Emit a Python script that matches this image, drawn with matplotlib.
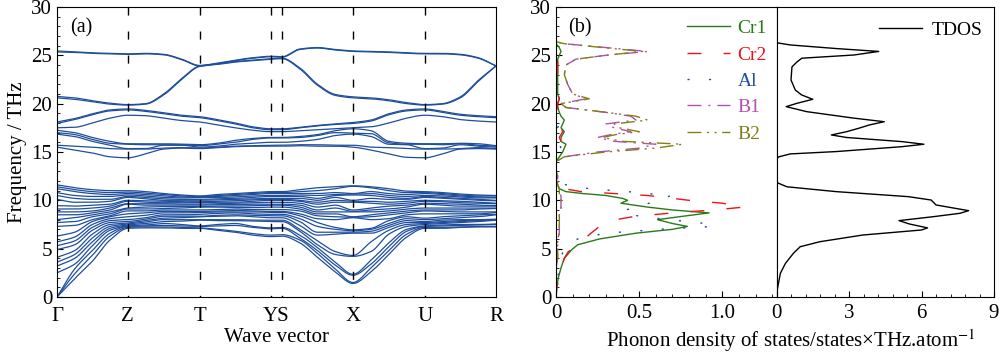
import numpy as np
import matplotlib
matplotlib.use("Agg")
import matplotlib.pyplot as plt
from matplotlib.ticker import MultipleLocator

plt.rcParams['font.family'] = ['Liberation Serif', 'DejaVu Serif']
plt.rcParams['mathtext.fontset'] = 'stix'

# ---------------- data ----------------
hs_labels = ['Γ', 'Z', 'T', 'YS', 'X', 'U', 'R']
hs_dist = [0.0, 70.7, 142.7, 213.7, 225.0, 296.0, 367.7, 439.0]   # Γ Z T Y S X U R
line_pos = [70.7, 142.7, 213.7, 225.0, 296.0, 367.7]
label_pos = [0.0, 70.7, 142.7, 219.35, 296.0, 367.7, 439.0]
# sample fractions along each segment (Y-S has only its end points)
seg_fracs = [0.0, 0.25, 0.5, 0.75]

# 24 lower bands, one row per k sample (Γ .25 .5 .75 Z .25 .5 .75 T .25 .5 .75 Y S .25 .5 .75 X .25 .5 .75 U .25 .5 .75 R)
band_low = [
    [0, 0, 0, 2.5, 3.2, 3.6, 4.1, 4.9, 5.3, 5.7, 6.3, 7.3, 7.7, 8.0, 8.5, 8.8, 9.1, 9.45, 10.1, 10.5, 10.8, 11.2, 11.4, 11.6],
    [1.9, 2.4, 2.9, 3.4, 4.0, 4.4, 4.8, 5.4, 5.8, 6.2, 6.7, 7.4, 7.8, 8.2, 8.5, 8.8, 9.1, 9.4, 9.8, 10.2, 10.5, 10.9, 11.1, 11.3],
    [3.7, 4.3, 4.8, 5.3, 5.7, 6.1, 6.5, 6.9, 7.2, 7.5, 7.8, 8.0, 8.3, 8.5, 8.7, 8.9, 9.2, 9.5, 9.8, 10.1, 10.4, 10.7, 10.9, 11.1],
    [5.9, 6.3, 6.6, 6.9, 7.1, 7.3, 7.5, 7.7, 7.9, 8.1, 8.3, 8.4, 8.6, 8.8, 9.0, 9.2, 9.4, 9.6, 9.9, 10.1, 10.4, 10.6, 10.8, 11.0],
    [7.1, 7.2, 7.3, 7.35, 7.45, 7.55, 7.65, 7.8, 8.0, 8.3, 8.6, 8.9, 9.1, 9.2, 9.6, 9.65, 9.9, 10.0, 10.3, 10.4, 10.55, 10.7, 10.85, 11.0],
    [7.15, 7.25, 7.35, 7.45, 7.6, 7.75, 7.9, 8.05, 8.2, 8.45, 8.7, 8.9, 9.1, 9.3, 9.5, 9.65, 9.8, 9.95, 10.15, 10.3, 10.45, 10.6, 10.75, 10.9],
    [7.15, 7.25, 7.4, 7.6, 7.8, 8.0, 8.15, 8.35, 8.5, 8.7, 8.85, 9.0, 9.15, 9.35, 9.5, 9.65, 9.75, 9.9, 10.0, 10.15, 10.3, 10.45, 10.6, 10.7],
    [7.1, 7.2, 7.35, 7.5, 7.85, 8.0, 8.2, 8.35, 8.5, 8.7, 8.85, 9.0, 9.2, 9.35, 9.5, 9.6, 9.75, 9.85, 10.0, 10.1, 10.25, 10.35, 10.45, 10.55],
    [7.1, 7.15, 7.3, 7.35, 7.95, 8.0, 8.3, 8.35, 8.55, 8.75, 8.85, 9.0, 9.3, 9.35, 9.5, 9.6, 9.75, 9.85, 10.0, 10.1, 10.3, 10.35, 10.4, 10.45],
    [6.9, 7.0, 7.35, 7.5, 7.9, 8.0, 8.35, 8.45, 8.65, 8.8, 8.9, 9.05, 9.3, 9.4, 9.55, 9.65, 9.8, 9.9, 10.05, 10.15, 10.3, 10.4, 10.5, 10.6],
    [6.7, 6.8, 7.4, 7.6, 7.9, 8.0, 8.4, 8.5, 8.7, 8.8, 8.95, 9.1, 9.25, 9.4, 9.55, 9.7, 9.8, 9.95, 10.1, 10.2, 10.35, 10.5, 10.6, 10.7],
    [6.4, 6.55, 7.2, 7.3, 7.85, 7.95, 8.3, 8.45, 8.6, 8.8, 8.9, 9.05, 9.25, 9.45, 9.6, 9.75, 9.9, 10.05, 10.15, 10.3, 10.45, 10.6, 10.7, 10.8],
    [6.25, 6.4, 7.05, 7.15, 7.8, 7.95, 8.2, 8.4, 8.55, 8.75, 8.85, 9.05, 9.3, 9.5, 9.6, 9.8, 10.0, 10.1, 10.2, 10.4, 10.5, 10.7, 10.8, 10.9],
    [6.3, 6.45, 7.1, 7.2, 7.8, 7.95, 8.2, 8.4, 8.55, 8.75, 8.85, 9.05, 9.3, 9.5, 9.6, 9.8, 10.0, 10.1, 10.2, 10.4, 10.5, 10.7, 10.8, 10.9],
    [5.6, 5.9, 6.1, 6.4, 6.8, 7.0, 7.4, 7.8, 8.1, 8.4, 8.6, 8.9, 9.1, 9.3, 9.5, 9.7, 9.9, 10.0, 10.2, 10.4, 10.55, 10.7, 10.9, 11.1],
    [4.1, 4.5, 4.8, 5.1, 5.4, 5.8, 6.4, 6.7, 7.3, 7.7, 8.1, 8.4, 8.6, 8.8, 9.0, 9.3, 9.6, 9.8, 10.0, 10.2, 10.5, 10.7, 11.0, 11.3],
    [2.6, 2.9, 3.3, 3.6, 4.4, 4.7, 6.5, 6.7, 7.0, 7.2, 8.0, 8.3, 8.6, 8.8, 9.2, 9.5, 9.8, 10.0, 10.3, 10.5, 10.6, 10.8, 11.2, 11.4],
    [1.4, 1.5, 2.25, 2.35, 4.2, 4.3, 6.6, 6.7, 6.85, 6.95, 8.2, 8.25, 8.3, 8.8, 8.85, 9.0, 9.8, 9.9, 10.0, 10.55, 10.65, 10.7, 11.45, 11.5],
    [2.6, 3.0, 3.4, 3.8, 4.7, 5.7, 6.6, 6.8, 7.0, 7.1, 8.0, 8.3, 8.5, 8.8, 9.0, 9.2, 9.7, 9.9, 10.2, 10.5, 10.7, 10.9, 11.3, 11.4],
    [4.4, 4.8, 5.2, 5.6, 6.5, 6.9, 7.2, 7.4, 7.6, 7.9, 8.1, 8.5, 8.7, 8.9, 9.1, 9.4, 9.6, 9.8, 10.1, 10.3, 10.5, 10.7, 11.0, 11.2],
    [6.2, 6.5, 6.8, 7.0, 7.3, 7.5, 7.7, 7.9, 8.1, 8.3, 8.5, 8.7, 8.9, 9.1, 9.3, 9.5, 9.7, 9.9, 10.1, 10.2, 10.4, 10.6, 10.8, 10.95],
    [7.1, 7.2, 7.3, 7.35, 7.5, 7.6, 7.7, 7.8, 8.0, 8.15, 8.6, 8.9, 9.0, 9.2, 9.6, 9.7, 9.9, 10.0, 10.3, 10.4, 10.5, 10.7, 10.8, 10.9],
    [7.1, 7.2, 7.35, 7.45, 7.6, 7.7, 7.8, 7.95, 8.1, 8.3, 8.6, 8.85, 9.0, 9.2, 9.5, 9.65, 9.85, 9.95, 10.2, 10.3, 10.45, 10.6, 10.7, 10.8],
    [7.2, 7.25, 7.4, 7.5, 7.7, 7.8, 7.9, 8.0, 8.2, 8.4, 8.6, 8.8, 9.0, 9.2, 9.4, 9.6, 9.75, 9.9, 10.1, 10.2, 10.35, 10.45, 10.55, 10.65],
    [7.25, 7.3, 7.45, 7.5, 7.8, 7.9, 7.95, 8.0, 8.3, 8.5, 8.6, 8.8, 9.1, 9.2, 9.4, 9.5, 9.7, 9.8, 10.0, 10.1, 10.25, 10.35, 10.45, 10.55],
    [7.25, 7.3, 7.5, 7.55, 7.95, 8.0, 8.0, 8.05, 8.5, 8.55, 8.75, 8.8, 9.15, 9.2, 9.4, 9.45, 9.65, 9.7, 9.95, 10.0, 10.25, 10.3, 10.45, 10.5],
]

# 12 upper bands, same k samples
band_high = [
    [15.5, 15.7, 16.85, 17.0, 17.25, 17.5, 17.95, 18.1, 20.6, 20.75, 25.35, 25.45],
    [15.2, 15.6, 16.6, 16.8, 17.0, 17.55, 18.35, 18.45, 20.45, 20.6, 25.3, 25.35],
    [14.9, 15.5, 16.1, 16.3, 16.5, 18.0, 18.85, 18.95, 20.2, 20.3, 25.2, 25.25],
    [14.5, 15.35, 15.7, 15.9, 16.1, 18.5, 19.25, 19.35, 19.95, 20.05, 25.15, 25.2],
    [14.4, 15.3, 15.35, 15.8, 15.85, 18.8, 19.35, 19.45, 19.85, 19.9, 25.1, 25.15],
    [14.8, 15.3, 15.35, 15.75, 15.85, 18.75, 19.2, 19.3, 19.95, 20.0, 25.15, 25.2],
    [15.3, 15.4, 15.7, 15.75, 15.85, 18.5, 18.95, 19.05, 20.9, 21.0, 25.05, 25.1],
    [15.4, 15.45, 15.7, 15.75, 15.8, 18.25, 18.7, 18.8, 22.5, 22.6, 24.55, 24.6],
    [15.35, 15.4, 15.5, 15.65, 15.75, 18.1, 18.55, 18.65, 23.85, 23.9, 23.9, 23.95],
    [15.45, 15.5, 15.6, 15.8, 15.9, 17.8, 18.25, 18.35, 24.05, 24.1, 24.15, 24.2],
    [15.55, 15.6, 15.8, 16.0, 16.2, 17.5, 17.9, 18.0, 24.3, 24.35, 24.45, 24.5],
    [15.6, 15.65, 15.9, 16.3, 16.4, 17.25, 17.5, 17.6, 24.45, 24.5, 24.7, 24.75],
    [15.6, 15.7, 16.0, 16.45, 16.5, 17.1, 17.3, 17.4, 24.6, 24.65, 24.85, 24.9],
    [15.6, 15.7, 16.0, 16.45, 16.5, 17.1, 17.3, 17.4, 24.65, 24.7, 24.8, 24.85],
    [15.65, 15.75, 16.1, 16.5, 16.6, 17.2, 17.5, 17.55, 23.6, 23.7, 25.6, 25.65],
    [15.6, 15.75, 16.3, 16.7, 16.8, 17.3, 17.7, 17.75, 21.9, 22.0, 25.75, 25.8],
    [15.6, 15.7, 16.7, 17.0, 17.2, 17.4, 17.85, 17.9, 20.85, 20.95, 25.55, 25.6],
    [15.5, 15.7, 16.85, 16.95, 17.4, 17.5, 17.95, 18.05, 20.6, 20.7, 25.4, 25.45],
    [15.2, 15.5, 16.6, 16.9, 17.2, 17.6, 18.2, 18.3, 20.5, 20.6, 25.35, 25.4],
    [14.8, 15.45, 15.8, 15.95, 16.1, 18.0, 18.85, 18.95, 20.3, 20.4, 25.3, 25.35],
    [14.45, 15.35, 15.75, 15.8, 15.9, 18.5, 19.25, 19.35, 20.0, 20.1, 25.2, 25.25],
    [14.4, 15.3, 15.35, 15.8, 15.85, 18.8, 19.35, 19.45, 19.85, 19.9, 25.15, 25.2],
    [14.8, 15.3, 15.4, 15.75, 15.85, 18.65, 19.1, 19.2, 19.95, 20.0, 25.15, 25.2],
    [15.3, 15.35, 15.75, 15.85, 15.9, 18.35, 18.8, 18.9, 20.6, 20.7, 25.05, 25.1],
    [15.35, 15.45, 15.6, 15.7, 15.85, 18.2, 18.65, 18.75, 22.3, 22.4, 24.7, 24.75],
    [15.3, 15.35, 15.5, 15.6, 15.65, 18.1, 18.55, 18.65, 23.9, 23.9, 23.9, 23.9],
]

# total DOS (frequency, value)
tdos_freq = [0.0, 1.0, 2.45, 3.48, 4.52, 5.2, 5.72, 6.41, 6.93, 7.15, 7.55, 7.9, 8.31, 8.66, 8.93, 9.52, 10.03, 10.38,
             10.9, 11.4, 11.8, 12.3, 14.3, 14.5, 14.8, 15.04, 15.55, 15.8, 16.07, 16.5, 16.76, 17.1, 17.45, 17.8, 18.13,
             18.5, 19.17, 19.69, 20.03, 20.45, 20.9, 21.4, 22.45, 23.8, 24.3, 24.7, 25.03, 25.4, 25.7, 26.07, 26.3, 30.0]
tdos_val = [0.0, 0.05, 0.16, 0.37, 0.7, 0.98, 1.8, 3.57, 6.0, 6.25, 5.5, 5.07, 6.5, 7.6, 7.95, 6.6, 6.4, 5.45,
            2.46, 0.43, 0.05, 0.0, 0.0, 0.1, 0.57, 2.46, 5.2, 6.1, 5.2, 2.9, 2.27, 2.9, 3.4, 3.85, 4.46,
            3.2, 1.25, 0.4, 0.84, 1.5, 1.04, 0.78, 0.6, 0.64, 0.84, 1.05, 3.2, 4.23, 2.46, 0.57, 0.0, 0.0]

# partial DOS
pdos_freq = [0.0, 1.0, 2.0, 3.0, 4.0, 4.6, 4.9, 5.4, 6.0, 6.6, 7.0, 7.3, 7.6, 8.0, 8.3, 8.7, 9.0, 9.3, 9.7, 10.0,
             10.2, 10.5, 10.7, 10.9, 11.2, 11.6, 12.0, 12.5, 13.0, 14.0, 14.5, 15.0, 15.4, 15.8, 16.1, 16.5, 16.8,
             17.1, 17.5, 17.9, 18.3, 18.7, 19.1, 19.6, 20.0, 20.5, 21.0, 22.0, 23.0, 24.0, 24.6, 25.0, 25.4, 25.8,
             26.2, 26.4, 30.0]
pdos_cr1 = [0.0, 0.005, 0.014, 0.03, 0.05, 0.08, 0.095, 0.13, 0.26, 0.48, 0.70, 0.79, 0.70, 0.61, 0.74, 0.92, 0.70,
            0.55, 0.39, 0.43, 0.40, 0.30, 0.16, 0.06, 0.02, 0.01, 0.0, 0.01, 0.0, 0.0, 0.02, 0.04, 0.05, 0.06, 0.03,
            0.03, 0.04, 0.05, 0.03, 0.04, 0.05, 0.03, 0.02, 0.01, 0.01, 0.02, 0.01, 0.01, 0.01, 0.01, 0.01, 0.02, 0.03,
            0.02, 0.0, 0.0, 0.0]
pdos_cr2 = [0.0, 0.005, 0.02, 0.03, 0.05, 0.07, 0.09, 0.12, 0.17, 0.21, 0.24, 0.26, 0.29, 0.36, 0.46, 0.70, 0.95,
            1.13, 1.0, 0.80, 0.70, 0.55, 0.35, 0.15, 0.05, 0.01, 0.0, 0.0, 0.0, 0.0, 0.02, 0.03, 0.05, 0.04, 0.03,
            0.02, 0.03, 0.04, 0.03, 0.04, 0.05, 0.03, 0.02, 0.01, 0.01, 0.02, 0.01, 0.01, 0.01, 0.01, 0.01, 0.02,
            0.02, 0.02, 0.0, 0.0, 0.0]
pdos_al = [0.0, 0.005, 0.01, 0.02, 0.03, 0.04, 0.05, 0.07, 0.13, 0.30, 0.62, 0.95, 0.90, 0.68, 0.52, 0.40, 0.42,
           0.48, 0.56, 0.60, 0.65, 0.69, 0.55, 0.43, 0.20, 0.06, 0.02, 0.01, 0.0, 0.0, 0.01, 0.02, 0.03, 0.02, 0.02,
           0.01, 0.02, 0.02, 0.01, 0.02, 0.02, 0.01, 0.01, 0.0, 0.0, 0.01, 0.0, 0.0, 0.0, 0.0, 0.0, 0.01, 0.01,
           0.01, 0.0, 0.0, 0.0]
pdos_b1 = [0.0, 0.0, 0.0, 0.0, 0.01, 0.01, 0.01, 0.01, 0.01, 0.02, 0.02, 0.02, 0.02, 0.02, 0.02, 0.02, 0.03, 0.03,
           0.03, 0.03, 0.03, 0.03, 0.02, 0.02, 0.02, 0.01, 0.01, 0.01, 0.0, 0.0, 0.05, 0.25, 0.50, 0.60, 0.35,
           0.25, 0.33, 0.45, 0.35, 0.30, 0.48, 0.45, 0.30, 0.06, 0.03, 0.18, 0.10, 0.07, 0.05, 0.06, 0.12, 0.30,
           0.55, 0.30, 0.05, 0.0, 0.0]
pdos_b2 = [0.0, 0.0, 0.0, 0.0, 0.01, 0.01, 0.01, 0.01, 0.01, 0.02, 0.02, 0.02, 0.02, 0.02, 0.02, 0.02, 0.03, 0.03,
           0.03, 0.03, 0.03, 0.03, 0.02, 0.02, 0.02, 0.01, 0.01, 0.01, 0.0, 0.0, 0.05, 0.30, 0.60, 0.76, 0.40,
           0.28, 0.36, 0.50, 0.38, 0.35, 0.55, 0.48, 0.30, 0.06, 0.03, 0.20, 0.10, 0.07, 0.05, 0.06, 0.12, 0.30,
           0.52, 0.28, 0.05, 0.0, 0.0]

pdos_names = ['Cr1', 'Cr2', 'Al', 'B1', 'B2']
pdos_colors = ['#2a7a1a', '#e8141c', '#1f4e9c', '#b04fb4', '#808018']


def pchip(x, y, xs):
    x = np.asarray(x, float)
    y = np.asarray(y, float)
    h = np.diff(x)
    d = np.diff(y) / h
    m = np.zeros_like(y)
    m[0], m[-1] = d[0], d[-1]
    for i in range(1, len(y) - 1):
        if d[i - 1] * d[i] <= 0:
            m[i] = 0.0
        else:
            w1 = 2 * h[i] + h[i - 1]
            w2 = h[i] + 2 * h[i - 1]
            m[i] = (w1 + w2) / (w1 / d[i - 1] + w2 / d[i])
    idx = np.clip(np.searchsorted(x, xs, side='right') - 1, 0, len(x) - 2)
    t = (xs - x[idx]) / h[idx]
    h00 = 2 * t**3 - 3 * t**2 + 1
    h10 = t**3 - 2 * t**2 + t
    h01 = -2 * t**3 + 3 * t**2
    h11 = t**3 - t**2
    return h00 * y[idx] + h10 * h[idx] * m[idx] + h01 * y[idx + 1] + h11 * h[idx] * m[idx + 1]


# k sample positions
kx = []
for s in range(len(hs_dist) - 1):
    a, b = hs_dist[s], hs_dist[s + 1]
    if s == 3:
        kx.append(a)
    else:
        for f in seg_fracs:
            kx.append(a + f * (b - a))
kx.append(hs_dist[-1])
kx = np.array(kx)

FS = 15

# ---------------- figure ----------------
fig = plt.figure(figsize=(10, 3.55), dpi=100)
ax_a = fig.add_axes([0.057, 0.1634, 0.439, 0.817])
ax_p = fig.add_axes([0.556, 0.1634, 0.2205, 0.817])
ax_t = fig.add_axes([0.7765, 0.1634, 0.2175, 0.817])

band_color = '#1f4e9c'
xs_fine = np.linspace(kx[0], kx[-1], 1500)
for table in (band_low, band_high):
    arr = np.array(table)
    for j in range(arr.shape[1]):
        ax_a.plot(xs_fine, pchip(kx, arr[:, j], xs_fine), color=band_color, lw=0.9)

for xp in line_pos:
    ax_a.plot([xp, xp], [30, 0], color='black', lw=1.0, dashes=(5.8, 11.5))

ax_a.set_xlim(hs_dist[0], hs_dist[-1])
ax_a.set_ylim(0, 30)
ax_a.set_xticks(label_pos)
ax_a.set_xticklabels(hs_labels)
ax_a.tick_params(axis='x', length=0, pad=7, labelsize=FS)
ax_a.yaxis.set_major_locator(MultipleLocator(5))
ax_a.yaxis.set_minor_locator(MultipleLocator(1))
ax_a.tick_params(axis='y', which='both', direction='in', labelsize=FS)
ax_a.tick_params(axis='y', which='major', length=4)
ax_a.tick_params(axis='y', which='minor', length=2)
ax_a.set_ylabel('Frequency / THz', fontsize=FS, labelpad=3)
ax_a.set_xlabel('Wave vector', fontsize=FS, labelpad=2)
ax_a.text(0.03, 0.96, '(a)', transform=ax_a.transAxes, fontsize=14.5, va='top', ha='left')

# PDOS panel
styles = [dict(ls='-'), dict(dashes=(10, 16)), dict(dashes=(1.5, 14)),
          dict(dashes=(10, 5, 1.5, 5)), dict(dashes=(10, 4, 1.5, 4, 1.5, 4))]
for name, vals, col, st in zip(pdos_names, [pdos_cr1, pdos_cr2, pdos_al, pdos_b1, pdos_b2], pdos_colors, styles):
    ax_p.plot(vals, pdos_freq, color=col, lw=1.0, label=name, **st)
ax_p.set_xlim(0, 1.325)
ax_p.set_ylim(0, 30)
ax_p.xaxis.set_major_locator(MultipleLocator(0.5))
ax_p.xaxis.set_minor_locator(MultipleLocator(0.1))
ax_p.set_xticks([0, 0.5, 1.0])
ax_p.set_xticklabels(['0', '0.5', '1.0'])
ax_p.yaxis.set_major_locator(MultipleLocator(5))
ax_p.yaxis.set_minor_locator(MultipleLocator(1))
ax_p.tick_params(which='both', direction='in', labelsize=FS)
ax_p.tick_params(which='major', length=4)
ax_p.tick_params(which='minor', length=2)
ax_p.tick_params(axis='x', pad=5)
ax_p.text(0.055, 0.96, '(b)', transform=ax_p.transAxes, fontsize=14.5, va='top', ha='left')
leg = ax_p.legend(loc='upper right', bbox_to_anchor=(1.0, 0.99), frameon=False, fontsize=14,
                  handlelength=2.2, handletextpad=0.4, labelspacing=0.45, borderaxespad=0.1)
for txt, col in zip(leg.get_texts(), pdos_colors):
    txt.set_color(col)

# TDOS panel
ax_t.plot(tdos_val, tdos_freq, color='black', lw=1.0, label='TDOS')
ax_t.set_xlim(0, 9)
ax_t.set_ylim(0, 30)
ax_t.xaxis.set_major_locator(MultipleLocator(3))
ax_t.xaxis.set_minor_locator(MultipleLocator(0.6))
ax_t.set_yticks([])
ax_t.tick_params(which='both', direction='in', labelsize=FS)
ax_t.tick_params(which='major', length=4)
ax_t.tick_params(which='minor', length=2)
ax_t.tick_params(axis='x', pad=5)
ax_t.legend(loc='upper right', bbox_to_anchor=(1.0, 0.99), frameon=False, fontsize=14, handlelength=2.2,
            handletextpad=0.5, borderaxespad=0.2)

fig.text(0.791, 0.004, 'Phonon density of states/states×THz.atom$^{-1}$', ha='center', va='bottom', fontsize=FS)

fig.savefig('out.png', dpi=100)
